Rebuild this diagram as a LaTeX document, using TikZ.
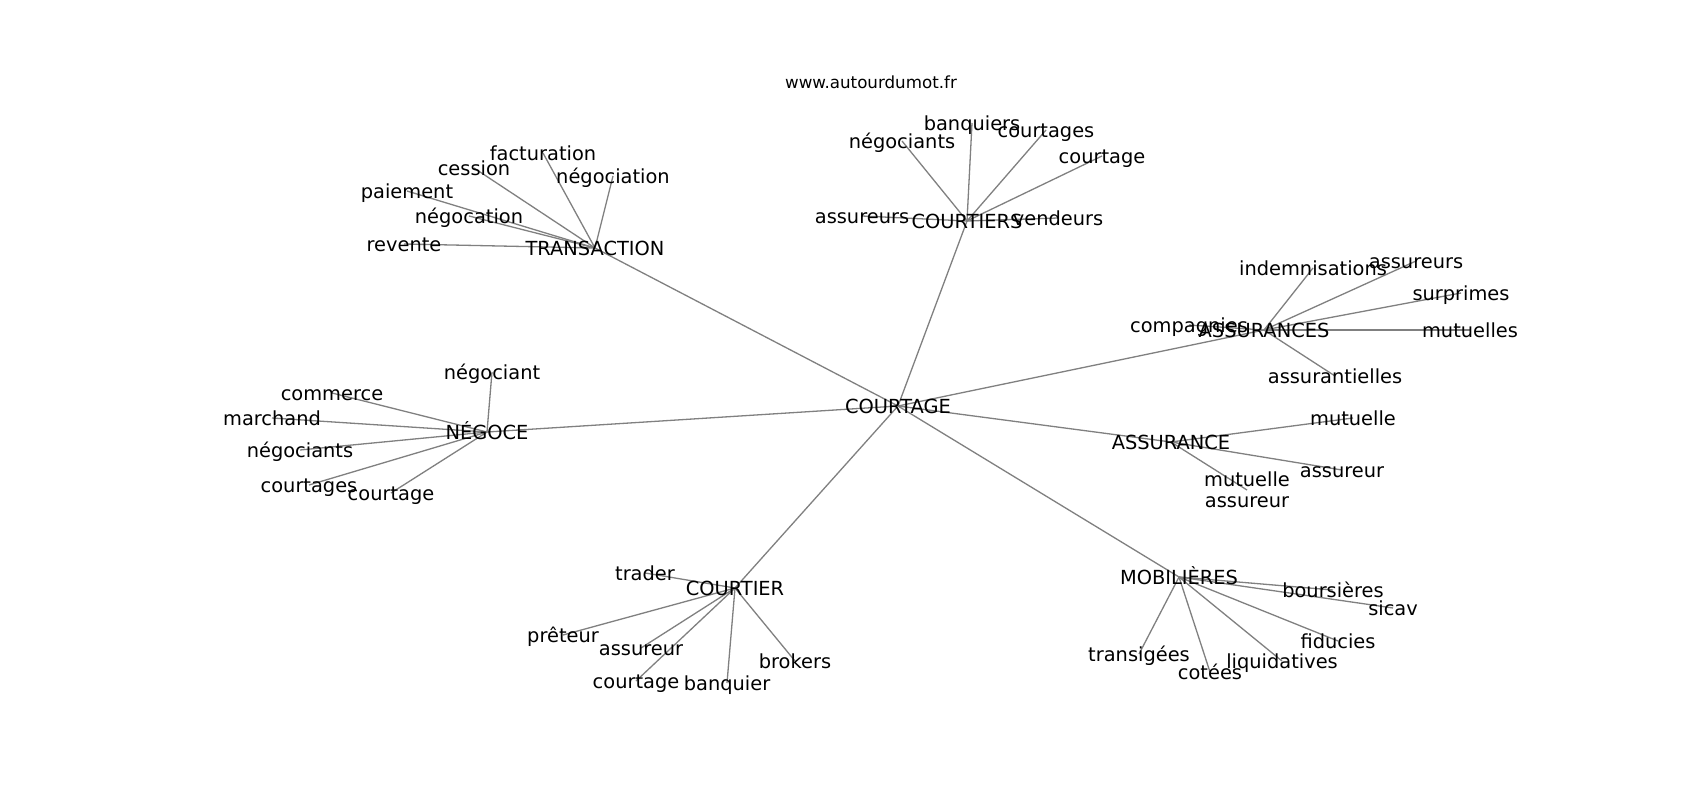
\documentclass[tikz,border=0pt]{standalone}
\usepackage{fontspec}
\setmainfont{DejaVu Sans}
\usetikzlibrary{backgrounds}
\begin{document}
\begin{tikzpicture}[x=1pt,y=-1pt,
  lbl/.style={inner sep=0pt, font=\fontsize{19.4}{22}\selectfont, text height=14.1pt, text depth=0pt},
  lbltwo/.style={inner sep=0pt, font=\fontsize{19.4}{21.5}\selectfont, align=center},
  ttl/.style={inner sep=0pt, font=\fontsize{16.7}{19}\selectfont},
  edge/.style={draw=gray, line width=1.3pt}]
\useasboundingbox (0,0) rectangle (1700,800);
\node[ttl] (www) at (871,82) {www.autourdumot.fr};
\node[lbl] (c0) at (898,406) {COURTAGE};
% TRANSACTION
\node[lbl] (tr) at (595,248) {TRANSACTION};
\node[lbl] (tr1) at (543,153) {facturation};
\node[lbl] (tr2) at (474,168) {cession};
\node[lbl] (tr3) at (613,176) {négociation};
\node[lbl] (tr4) at (407,191) {paiement};
\node[lbl] (tr5) at (469,216) {négocation};
\node[lbl] (tr6) at (404,244) {revente};
% COURTIERS
\node[lbl] (cs) at (967,221) {COURTIERS};
\node[lbl] (cs1) at (972,123) {banquiers};
\node[lbl] (cs2) at (902,141) {négociants};
\node[lbl] (cs3) at (1046,130) {courtages};
\node[lbl] (cs4) at (1102,156) {courtage};
\node[lbl] (cs5) at (862,216) {assureurs};
\node[lbl] (cs6) at (1058,218) {vendeurs};
% ASSURANCES
\node[lbl] (as) at (1264,330) {ASSURANCES};
\node[lbl] (as1) at (1189,325) {compagnies};
\node[lbl] (as2) at (1313,268) {indemnisations};
\node[lbl] (as3) at (1416,261) {assureurs};
\node[lbl] (as4) at (1461,293) {surprimes};
\node[lbl] (as5) at (1470,330) {mutuelles};
\node[lbl] (as6) at (1335,376) {assurantielles};
% ASSURANCE
\node[lbl] (a1) at (1171,442) {ASSURANCE};
\node[lbl] (a11) at (1353,418) {mutuelle};
\node[lbl] (a12) at (1342,470) {assureur};
\node[lbltwo] (a13) at (1247,490) {mutuelle\\assureur};
% NEGOCE
\node[lbl] (ng) at (487,432) {NÉGOCE};
\node[lbl] (ng1) at (492,372) {négociant};
\node[lbl] (ng2) at (332,393) {commerce};
\node[lbl] (ng3) at (272,418) {marchand};
\node[lbl] (ng4) at (300,450) {négociants};
\node[lbl] (ng5) at (309,485) {courtages};
\node[lbl] (ng6) at (391,493) {courtage};
% COURTIER
\node[lbl] (cr) at (735,588) {COURTIER};
\node[lbl] (cr1) at (645,573) {trader};
\node[lbl] (cr2) at (563,635) {prêteur};
\node[lbl] (cr3) at (641,648) {assureur};
\node[lbl] (cr4) at (636,681) {courtage};
\node[lbl] (cr5) at (727,683) {banquier};
\node[lbl] (cr6) at (795,661) {brokers};
% MOBILIERES
\node[lbl] (mb) at (1179,577) {MOBILIÈRES};
\node[lbl] (mb1) at (1333,590) {boursières};
\node[lbl] (mb2) at (1393,608) {sicav};
\node[lbl] (mb3) at (1338,641) {fiducies};
\node[lbl] (mb4) at (1282,661) {liquidatives};
\node[lbl] (mb5) at (1210,672) {cotées};
\node[lbl] (mb6) at (1139,654) {transigées};
\begin{scope}[on background layer]
\fill[white] (0,0) rectangle (1700,800);
\foreach \h in {tr,cs,as,a1,ng,cr,mb} \draw[edge] (c0.center) -- (\h.center);
\foreach \i in {1,...,6} {
  \draw[edge] (tr.center) -- (tr\i.center);
  \draw[edge] (cs.center) -- (cs\i.center);
  \draw[edge] (as.center) -- (as\i.center);
  \draw[edge] (ng.center) -- (ng\i.center);
  \draw[edge] (cr.center) -- (cr\i.center);
  \draw[edge] (mb.center) -- (mb\i.center);
}
\foreach \i in {1,2,3} \draw[edge] (a1.center) -- (a1\i.center);
\end{scope}
\end{tikzpicture}
\end{document}
